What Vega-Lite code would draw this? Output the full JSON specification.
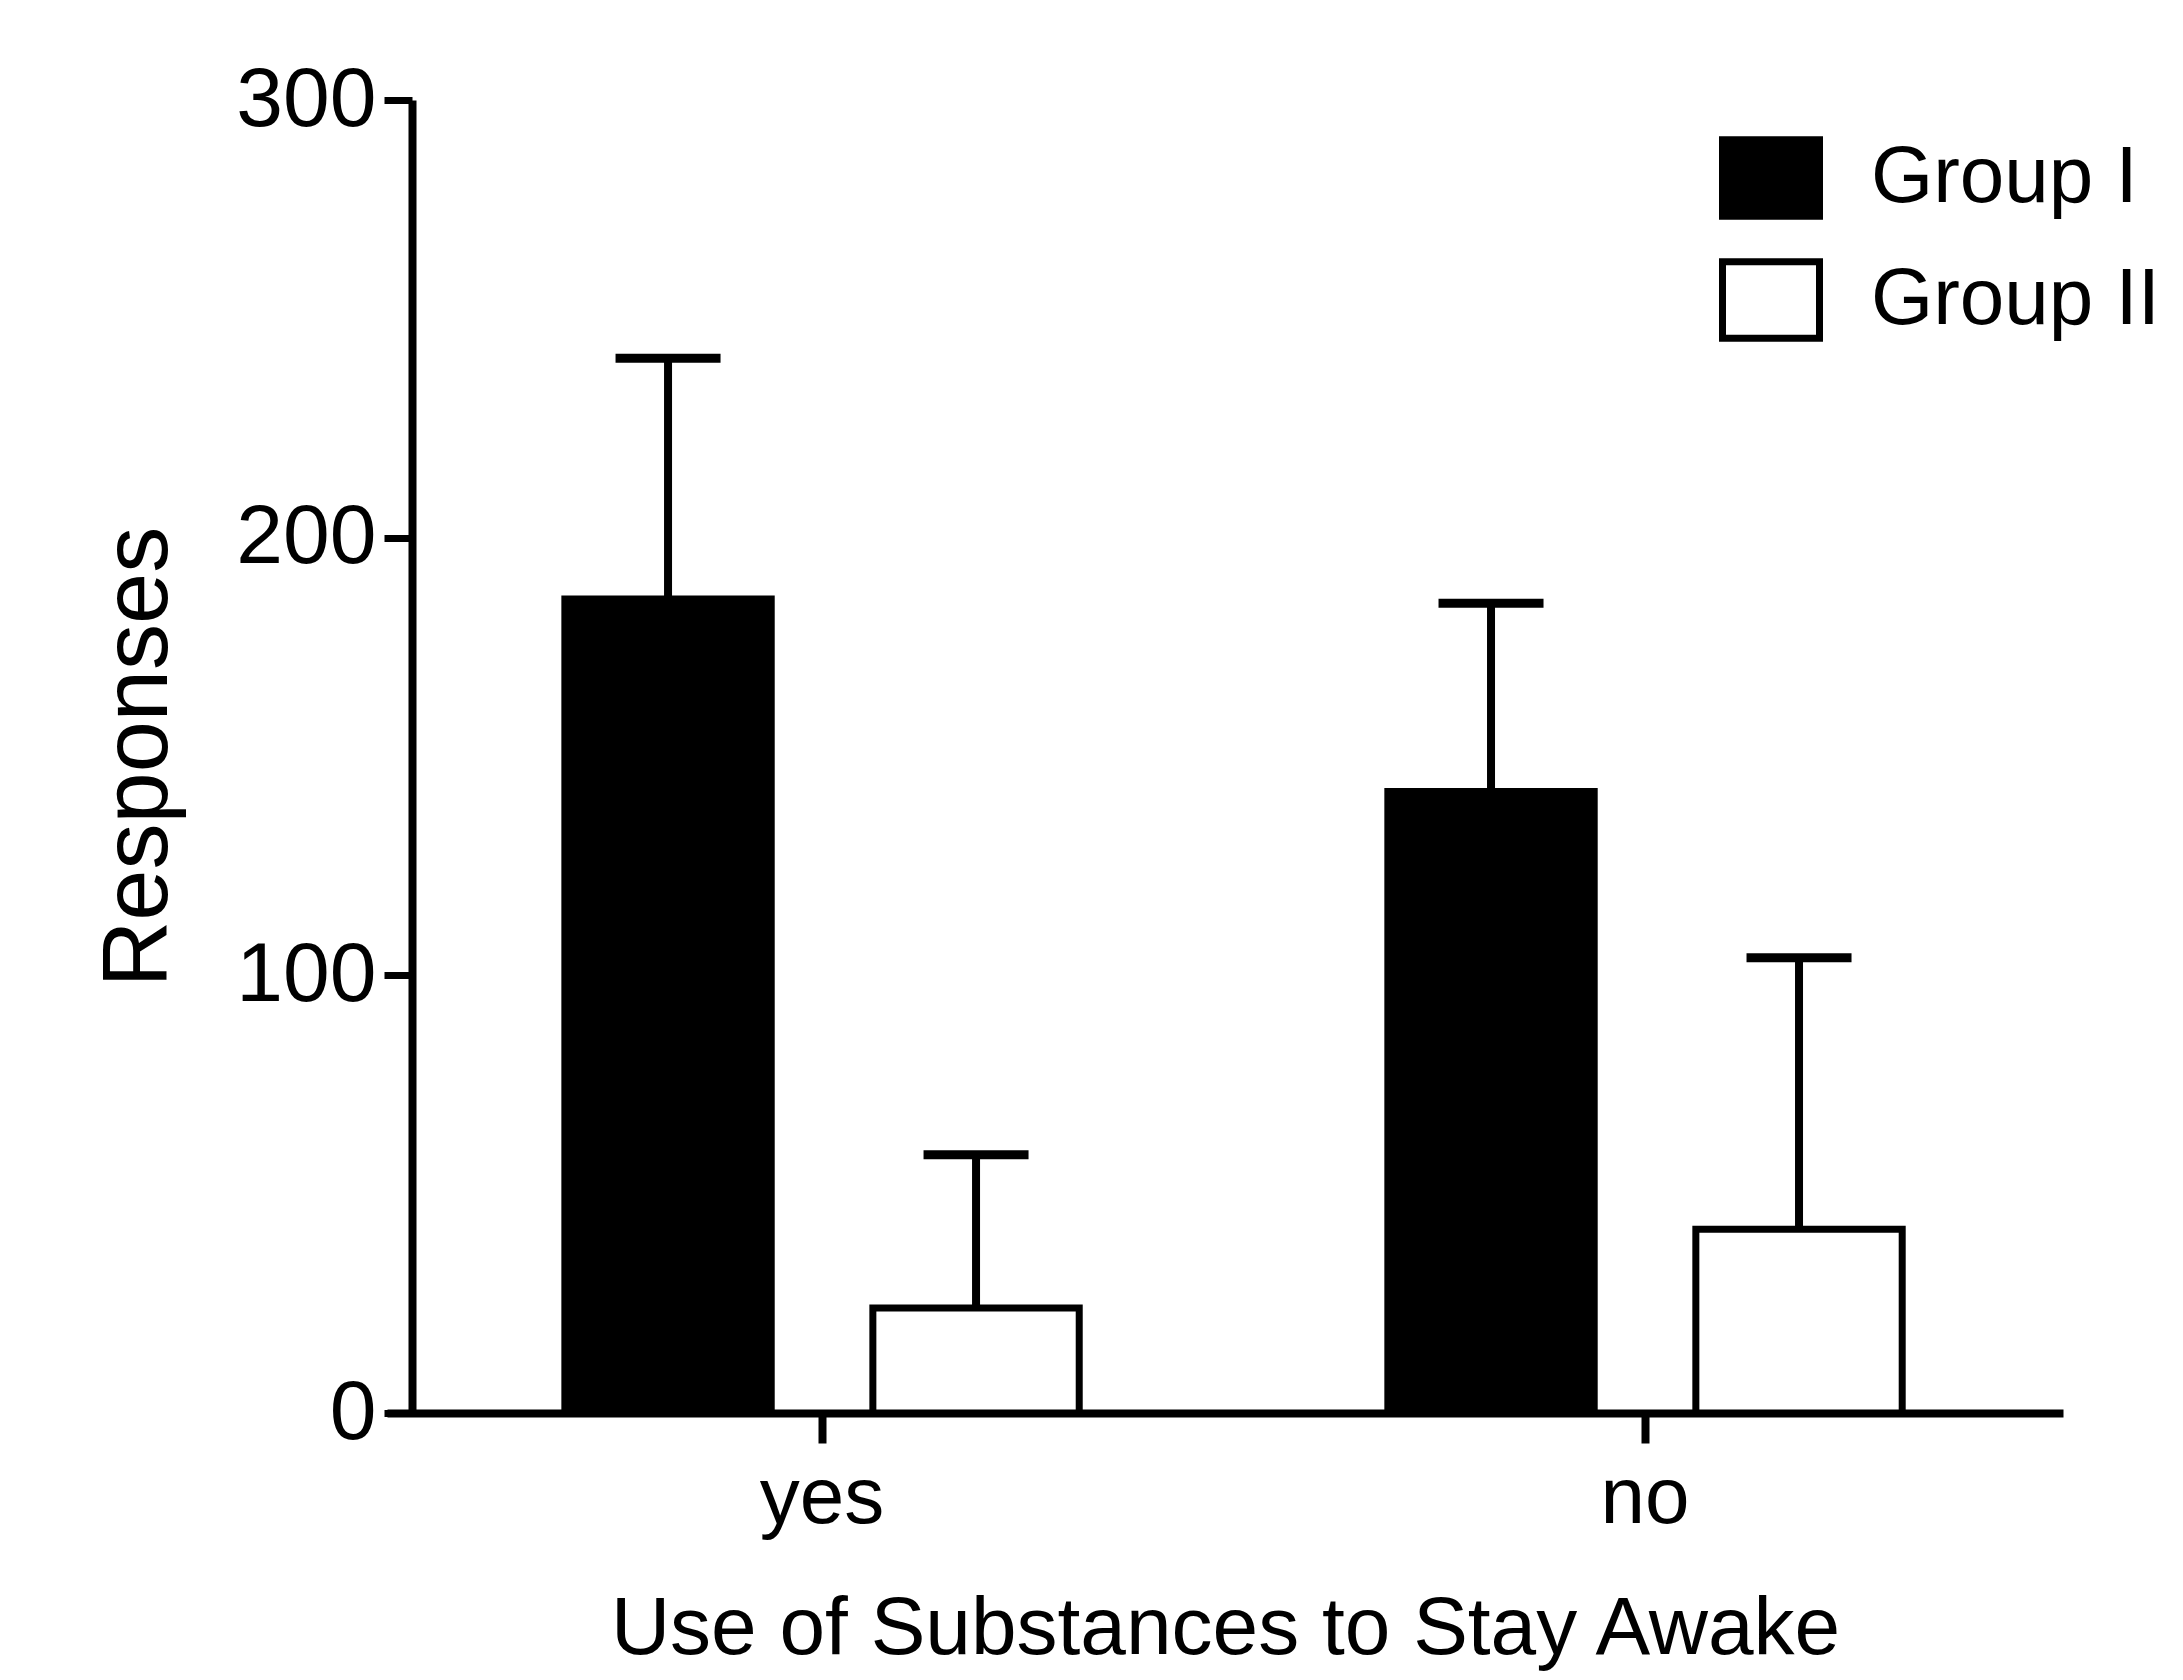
{
  "$schema": "https://vega.github.io/schema/vega-lite/v6.json",
  "autosize": {"type": "none"},
  "width": 1676,
  "height": 1313,
  "padding": {"left": 387, "top": 100, "right": 120, "bottom": 267},
  "background": "white",
  "config": {
    "view": {"stroke": null},
    "axis": {"grid": false, "domainColor": "black", "tickColor": "black", "labelColor": "black", "titleColor": "black"},
    "legend": {"padding": 0}
  },
  "data": {
    "values": [
      {"answer": "yes", "group": "Group I", "mean": 186, "upper": 241},
      {"answer": "yes", "group": "Group II", "mean": 24, "upper": 59},
      {"answer": "no", "group": "Group I", "mean": 142, "upper": 185},
      {"answer": "no", "group": "Group II", "mean": 42, "upper": 104}
    ]
  },
  "encoding": {
    "x": {
      "field": "answer", "type": "nominal", "sort": ["yes", "no"],
      "scale": {"paddingInner": 0.2515, "paddingOuter": 0.144, "align": 0.536},
      "axis": {
        "title": "Use of Substances to Stay Awake",
        "labelAngle": 0,
        "domainWidth": 8, "tickWidth": 8, "tickSize": 30,
        "labelFont": "Liberation Sans", "labelFontSize": 80, "labelPadding": 16,
        "titleFont": "Liberation Sans", "titleFontSize": 82, "titleFontWeight": "normal", "titlePadding": 50
      }
    },
    "xOffset": {
      "field": "group", "type": "nominal",
      "scale": {"paddingInner": 0.33, "paddingOuter": 0.165}
    }
  },
  "layer": [
    {
      "mark": {"type": "bar", "stroke": "black", "strokeWidth": 7},
      "encoding": {
        "y": {
          "field": "mean", "type": "quantitative",
          "scale": {"domain": [0, 300], "nice": false},
          "axis": {
            "title": "Responses", "values": [0, 100, 200, 300], "offset": -25,
            "domainWidth": 8, "tickWidth": 7, "tickSize": 28,
            "labelFont": "Liberation Sans", "labelFontSize": 84, "labelPadding": 8,
            "titleFont": "Liberation Sans", "titleFontSize": 92, "titleFontWeight": "normal", "titlePadding": 50
          }
        },
        "fill": {
          "field": "group", "type": "nominal",
          "scale": {"domain": ["Group I", "Group II"], "range": ["black", "white"]},
          "legend": {
            "title": null, "orient": "none", "legendX": 1332, "legendY": 26,
            "symbolType": "M-1,-0.79H1V0.79H-1Z", "symbolSize": 9409,
            "symbolStrokeColor": "black", "symbolStrokeWidth": 7,
            "labelFont": "Liberation Sans", "labelFontSize": 80, "labelColor": "black",
            "labelOffset": 48, "rowPadding": 16, "labelLimit": 500
          }
        }
      }
    },
    {
      "mark": {"type": "rule", "color": "black", "strokeWidth": 8},
      "encoding": {
        "y": {"field": "mean", "type": "quantitative"},
        "y2": {"field": "upper"}
      }
    },
    {
      "mark": {"type": "tick", "color": "black", "size": 105, "thickness": 9, "opacity": 1},
      "encoding": {
        "y": {"field": "upper", "type": "quantitative"}
      }
    }
  ]
}
